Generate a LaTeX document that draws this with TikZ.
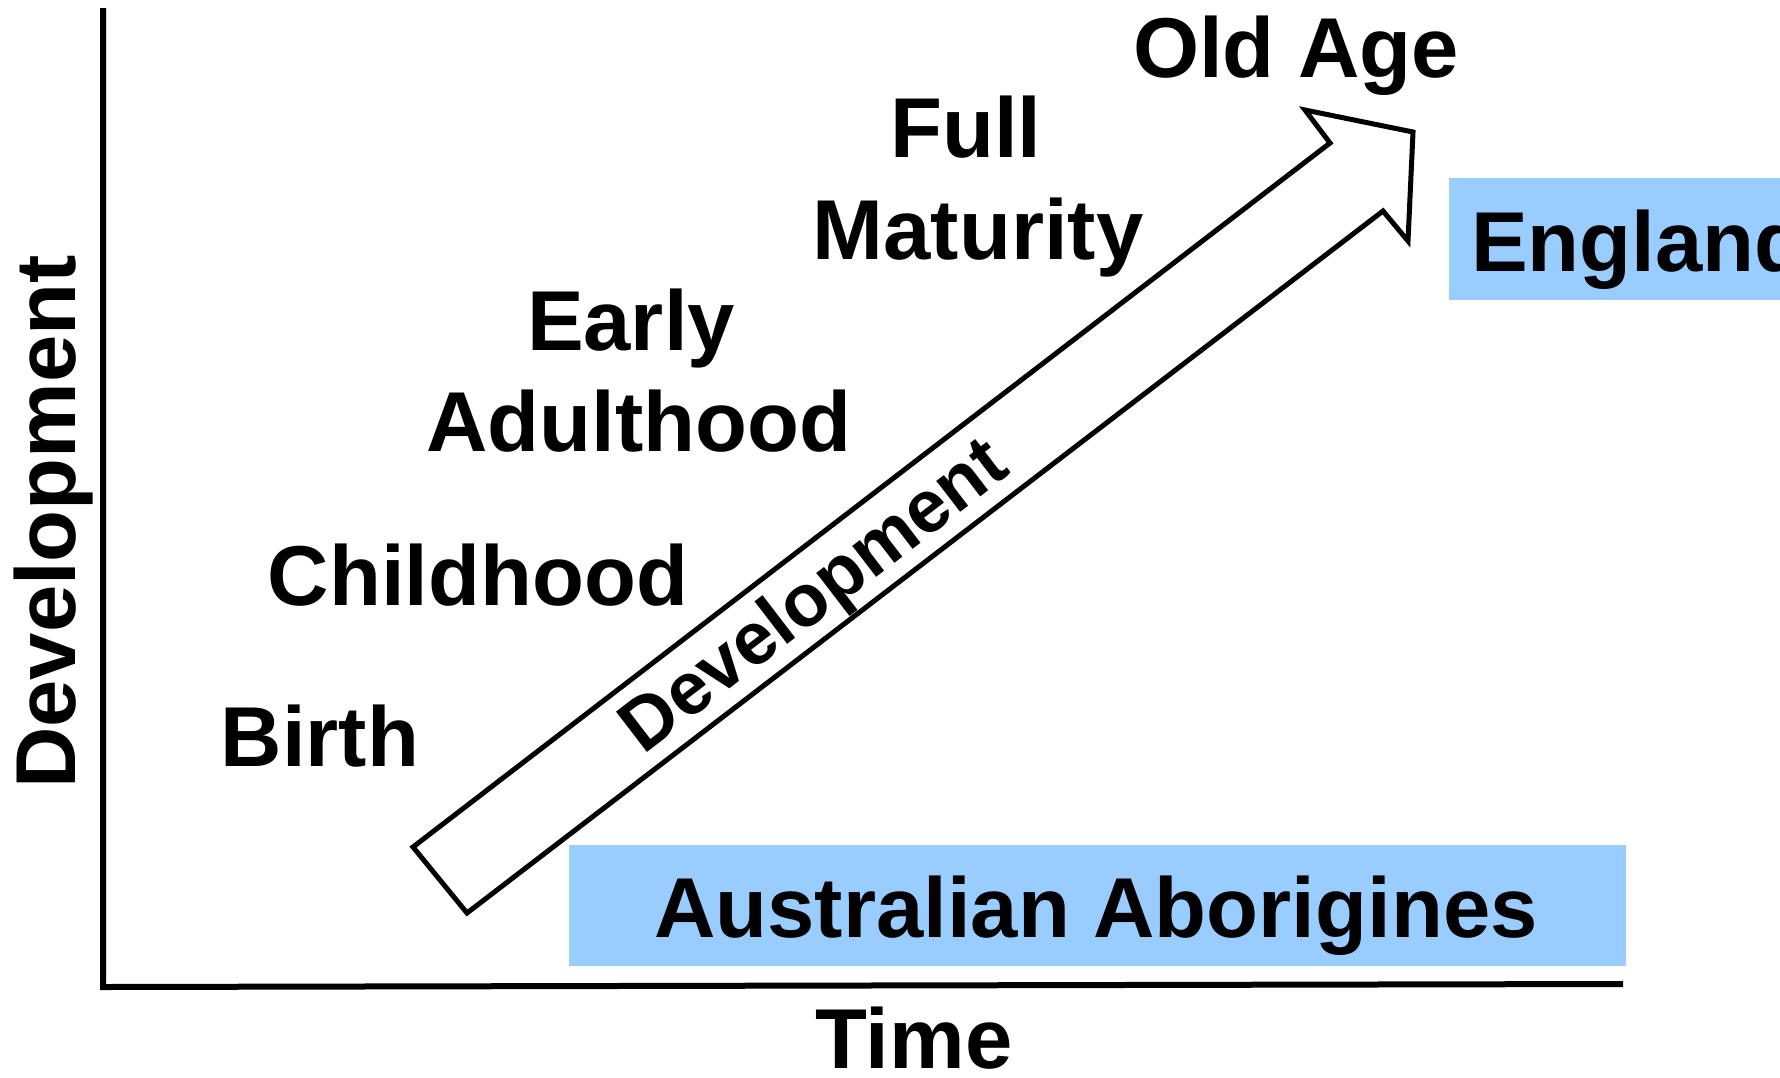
\documentclass[tikz,border=0pt]{standalone}
\usepackage{fontspec}
\setmainfont{Liberation Sans}
\definecolor{boxblue}{RGB}{153,204,255}
\begin{document}
\begin{tikzpicture}[x=1pt,y=-1pt,
  lbl/.style={font=\fontsize{85}{100}\selectfont\bfseries, inner sep=0pt, anchor=base},
  axisline/.style={line width=6pt, line join=miter},
  band/.style={line width=5pt, line join=miter},
  box/.style={fill=boxblue, draw=none, inner sep=0pt}]
\clip (0,0) rectangle (1780,1077);
\fill[white] (0,0) rectangle (1780,1077);
% axes
\draw[axisline] (103,8) -- (103,987) -- (1623,984);
% background boxes
\node[box, minimum width=1057pt, minimum height=121pt] (ausbox) at (1097.5,905.5) {};
\node[box, minimum width=360pt, minimum height=122pt, anchor=north west] (engbox) at (1449,178) {};
% arrow
\draw[band] (413,847) -- (1330,143) -- (1305,110) -- (1413,132) -- (1408,241) -- (1383,211) -- (467,913) -- cycle;
% labels
\node[lbl, rotate=90] (ylab) at (75,522) {Development};
\node[lbl] (time) at (914,1068) {Time};
\node[lbl] (aus) at (1096,937) {Australian Aborigines};
\node[lbl, anchor=base west] (eng) at (1471,271) {England};
\node[lbl] (old) at (1296,77) {Old Age};
\node[lbl] (full) at (966,157) {Full};
\node[lbl] (mat) at (978,259) {Maturity};
\node[lbl] (early) at (631,350) {Early};
\node[lbl] (adult) at (639,451) {Adulthood};
\node[lbl] (child) at (478,605) {Childhood};
\node[lbl] (birth) at (320,766) {Birth};
\node[lbl, font=\fontsize{74}{90}\selectfont\bfseries, rotate=37.5] (dev) at (828,614) {Development};
\end{tikzpicture}
\end{document}
